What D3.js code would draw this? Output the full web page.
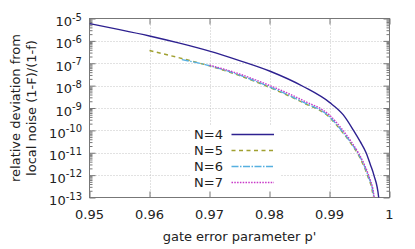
<!DOCTYPE html>
<html><head><meta charset="utf-8">
<script src="https://cdn.jsdelivr.net/npm/d3@7"></script>
<style>html,body{margin:0;padding:0;background:#fff;}svg{display:block;font-family:"DejaVu Sans",sans-serif;}</style>
</head><body>
<svg id="c" width="415" height="249"></svg>
<script>
// ---- data ----
const seriesNames = ["N=4", "N=5", "N=6", "N=7"];
const pN4 = [0.950, 0.955, 0.960, 0.965, 0.970, 0.975, 0.980, 0.9857, 0.990, 0.9923, 0.9940, 0.9951, 0.9961, 0.9968, 0.9974, 0.9982, 0.99825];
const fN4 = [5.9e-6, 3.2e-6, 1.66e-6, 7.9e-7, 3.5e-7, 1.32e-7, 4.5e-8, 8.9e-9, 1.78e-9, 4.9e-10, 1.0e-10, 3.2e-11, 1.0e-11, 3.0e-12, 1.0e-12, 1.0e-13, 2.5e-14];
const pN5 = [0.960, 0.965, 0.970, 0.975, 0.980, 0.9857, 0.990, 0.9919, 0.9934, 0.9946, 0.9956, 0.9963, 0.9973, 0.99735];
const fN5 = [3.7e-7, 1.74e-7, 7.6e-8, 2.8e-8, 8.3e-9, 1.66e-9, 3.8e-10, 1.0e-10, 3.0e-11, 1.0e-11, 3.0e-12, 1.0e-12, 1.0e-13, 2.5e-14];
const pN6 = [0.9654, 0.970, 0.975, 0.980, 0.9857, 0.990, 0.9920, 0.9935, 0.9947, 0.9957, 0.9964, 0.9974, 0.99745];
const fN6 = [1.45e-7, 7.8e-8, 2.95e-8, 8.9e-9, 1.78e-9, 4.1e-10, 1.0e-10, 3.0e-11, 1.0e-11, 3.0e-12, 1.0e-12, 1.0e-13, 2.5e-14];
const pN7 = [0.970, 0.975, 0.980, 0.9857, 0.990, 0.9921, 0.9936, 0.9948, 0.9958, 0.9965, 0.99745, 0.9975];
const fN7 = [8.3e-8, 3.3e-8, 1.02e-8, 2.1e-9, 4.8e-10, 1.12e-10, 3.2e-11, 1.0e-11, 3.0e-12, 1.0e-12, 1.0e-13, 2.5e-14];
const xTicks = [0.95, 0.96, 0.97, 0.98, 0.99, 1];
const xTickLabels = ["0.95", "0.96", "0.97", "0.98", "0.99", "1"];
const yExponents = [-13, -12, -11, -10, -9, -8, -7, -6, -5];
const xTitle = "gate error parameter p'";
const yTitle = ["relative deviation from", "local noise (1-F)/(1-f)"];

const seriesP = [pN4, pN5, pN6, pN7];
const seriesF = [fN4, fN5, fN6, fN7];
const colors = ["#2e2190", "#a0a030", "#56b0e0", "#c838c8"];
const dashes = [null, "4,3.5", "7,1.5,1.5,1.5", "1.5,1.3"];

// ---- layout ----
const svg = d3.select("#c");
const L = 89.5, R = 389.5, T = 18.5, B = 197.5;
const x = d3.scaleLinear().domain([0.95, 1]).range([L, R]);
const y = d3.scaleLog().domain([1e-13, 1e-5]).range([B, T]);
const gridCol = "#c4c4c4", borderCol = "#777";

svg.append("defs").append("clipPath").attr("id", "clip")
  .append("rect").attr("x", L).attr("y", T).attr("width", R - L).attr("height", B - T);

// grid
const grid = svg.append("g").attr("stroke", gridCol).attr("stroke-width", 1).attr("stroke-dasharray", "1,2");
xTicks.slice(1, -1).forEach(v => grid.append("line")
  .attr("x1", Math.round(x(v)) + 0.5).attr("x2", Math.round(x(v)) + 0.5).attr("y1", T).attr("y2", B));
yExponents.slice(1, -1).forEach(e => grid.append("line")
  .attr("y1", Math.round(y(Math.pow(10, e))) + 0.5).attr("y2", Math.round(y(Math.pow(10, e))) + 0.5).attr("x1", L).attr("x2", R));

// legend background
svg.append("rect").attr("x", 190).attr("y", 125).attr("width", 90).attr("height", B - 125 - 0.5).attr("fill", "#fff");

// axes (ticks inside, mirrored)
const minor = [];
yExponents.slice(0, -1).forEach(e => { for (let k = 2; k <= 9; k++) minor.push(k * Math.pow(10, e)); });
const axL = d3.axisRight(y).tickValues(yExponents.map(e => Math.pow(10, e))).tickSize(6).tickFormat("");
const axLm = d3.axisRight(y).tickValues(minor).tickSize(3).tickFormat("");
const axR = d3.axisLeft(y).tickValues(yExponents.map(e => Math.pow(10, e))).tickSize(6).tickFormat("");
const axRm = d3.axisLeft(y).tickValues(minor).tickSize(3).tickFormat("");
const axB = d3.axisTop(x).tickValues(xTicks).tickSize(6).tickFormat("");
const axT = d3.axisBottom(x).tickValues(xTicks).tickSize(6).tickFormat("");
function styleAx(g) { g.select(".domain").remove(); g.selectAll("line").attr("stroke", borderCol); }
svg.append("g").attr("transform", `translate(${L},0)`).call(axL).call(styleAx);
svg.append("g").attr("transform", `translate(${L},0)`).call(axLm).call(styleAx);
svg.append("g").attr("transform", `translate(${R},0)`).call(axR).call(styleAx);
svg.append("g").attr("transform", `translate(${R},0)`).call(axRm).call(styleAx);
svg.append("g").attr("transform", `translate(0,${B})`).call(axB).call(styleAx);
svg.append("g").attr("transform", `translate(0,${T})`).call(axT).call(styleAx);

// border
svg.append("rect").attr("x", L).attr("y", T).attr("width", R - L).attr("height", B - T)
  .attr("fill", "none").attr("stroke", borderCol).attr("stroke-width", 1);

// tick labels
svg.append("g").selectAll("text").data(xTicks).join("text")
  .attr("x", d => x(d)).attr("y", 218.5).attr("text-anchor", "middle")
  .attr("font-size", 13).attr("fill", "#222").text((d, i) => xTickLabels[i]);
const yl = svg.append("g").selectAll("text").data(yExponents).join("text")
  .attr("x", 82).attr("y", d => y(Math.pow(10, d)) + 7.5).attr("text-anchor", "end")
  .attr("font-size", 13).attr("fill", "#222");
yl.append("tspan").text("10");
yl.append("tspan").attr("dy", -5.5).attr("font-size", 10).text(d => "-" + Math.abs(d));

// titles
svg.append("text").attr("x", (L + R) / 2).attr("y", 241).attr("text-anchor", "middle")
  .attr("font-size", 13).attr("fill", "#222").text(xTitle);
yTitle.forEach((t, i) => svg.append("text")
  .attr("transform", `translate(${20 + i * 15.5},${(T + B) / 2}) rotate(-90)`)
  .attr("text-anchor", "middle").attr("font-size", 13).attr("fill", "#222").text(t));

// curves
const line = d3.line().x(d => x(d[0])).y(d => y(d[1])).curve(d3.curveMonotoneX);
const plot = svg.append("g").attr("clip-path", "url(#clip)");
seriesP.forEach((ps, i) => {
  const pts = ps.map((p, j) => [p, seriesF[i][j]]);
  plot.append("path").datum(pts).attr("d", line).attr("fill", "none")
    .attr("stroke", colors[i]).attr("stroke-width", 1.4)
    .attr("stroke-dasharray", dashes[i]);
});

// legend
const ly = [134.5, 150.5, 166.5, 182.5];
seriesNames.forEach((n, i) => {
  svg.append("text").attr("x", 223).attr("y", ly[i] + 4.7).attr("text-anchor", "end")
    .attr("font-size", 13).attr("fill", "#222").text(n);
  svg.append("line").attr("x1", 231.5).attr("x2", 274).attr("y1", ly[i]).attr("y2", ly[i])
    .attr("stroke", colors[i]).attr("stroke-width", 1.4).attr("stroke-dasharray", dashes[i]);
});
</script>
</body></html>
